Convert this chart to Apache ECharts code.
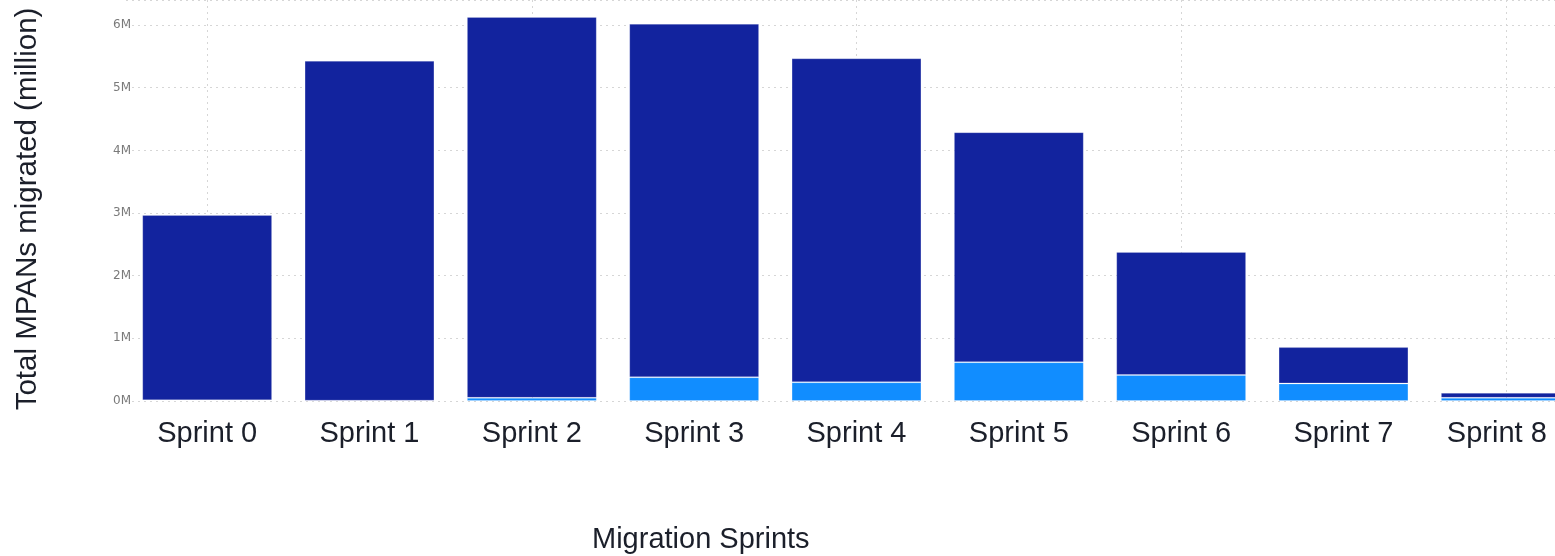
<!DOCTYPE html>
<html>
<head>
<meta charset="utf-8">
<script src="https://cdn.jsdelivr.net/npm/echarts@6/dist/echarts.min.js"></script>
<style>
html,body{margin:0;padding:0;background:#fff;overflow:hidden;width:1555px;height:556px;}
#chart{width:1588px;height:556px;}
</style>
</head>
<body>
<div id="chart"></div>
<script>
const categories = ['Sprint 0','Sprint 1','Sprint 2','Sprint 3','Sprint 4','Sprint 5','Sprint 6','Sprint 7','Sprint 8'];
// lower (light blue) segment, millions
const lightValues = [0.01, 0.005, 0.05, 0.38, 0.30, 0.62, 0.415, 0.28, 0.05];
// upper (dark blue) segment, millions
const darkValues = [2.96, 5.425, 6.08, 5.64, 5.17, 3.67, 1.965, 0.58, 0.08];
const yTicks = [0, 1, 2, 3, 4, 5, 6];

const chart = echarts.init(document.getElementById('chart'));
const font = '"Liberation Sans", Arial, sans-serif';
chart.setOption({
  animation: false,
  backgroundColor: '#fff',
  title: {
    text: 'Migration Sprints',
    left: 587, top: 520,
    textStyle: {fontFamily: font, fontSize: 29, fontWeight: 'normal', color: '#1b1f2a'}
  },
  graphic: [{
    type: 'text',
    x: 28, y: 209,
    rotation: Math.PI / 2,
    style: {
      text: 'Total MPANs migrated (million)',
      font: '29.5px "Liberation Sans", Arial, sans-serif',
      fill: '#1b1f2a',
      textAlign: 'center',
      textVerticalAlign: 'middle'
    }
  }],
  grid: {left: 126, right: 1, top: -2, height: 403, containLabel: false},
  xAxis: {
    type: 'category',
    data: categories,
    axisLine: {show: false},
    axisTick: {show: false},
    axisLabel: {
      fontFamily: font, fontSize: 29, color: '#1b1f2a', margin: 18, interval: 0,
      formatter: function (v, i) {
        return i === categories.length - 1 ? '{last|' + v + '}' : v;
      },
      rich: {
        last: {fontFamily: font, fontSize: 29, color: '#1b1f2a', padding: [0, 18, 0, 0]}
      }
    },
    splitLine: {
      show: true,
      alignWithLabel: true,
      interval: function (i) { return i % 2 === 0; },
      lineStyle: {color: '#d6d6d6', type: [2, 4], width: 1}
    }
  },
  yAxis: {
    type: 'value',
    min: 0, max: 6.4, interval: 1,
    axisLine: {show: false},
    axisTick: {show: false},
    axisLabel: {
      fontFamily: '"Segoe UI", "DejaVu Sans", sans-serif',
      fontSize: 12, color: '#7a7a7a', margin: -5,
      formatter: function (v) { return yTicks.indexOf(v) >= 0 ? v + 'M' : ''; }
    },
    splitLine: {show: true, lineStyle: {color: '#d6d6d6', type: [2, 4], width: 1}}
  },
  series: [
    {
      name: 'light', type: 'bar', stack: 'total', data: lightValues,
      barCategoryGap: '20%',
      itemStyle: {color: '#118DFF', borderColor: 'rgba(255,255,255,0.2)', borderWidth: 1}
    },
    {
      name: 'dark', type: 'bar', stack: 'total', data: darkValues,
      barCategoryGap: '20%',
      itemStyle: {color: '#12239E', borderColor: 'rgba(255,255,255,0.2)', borderWidth: 1}
    }
  ]
});
</script>
</body>
</html>
